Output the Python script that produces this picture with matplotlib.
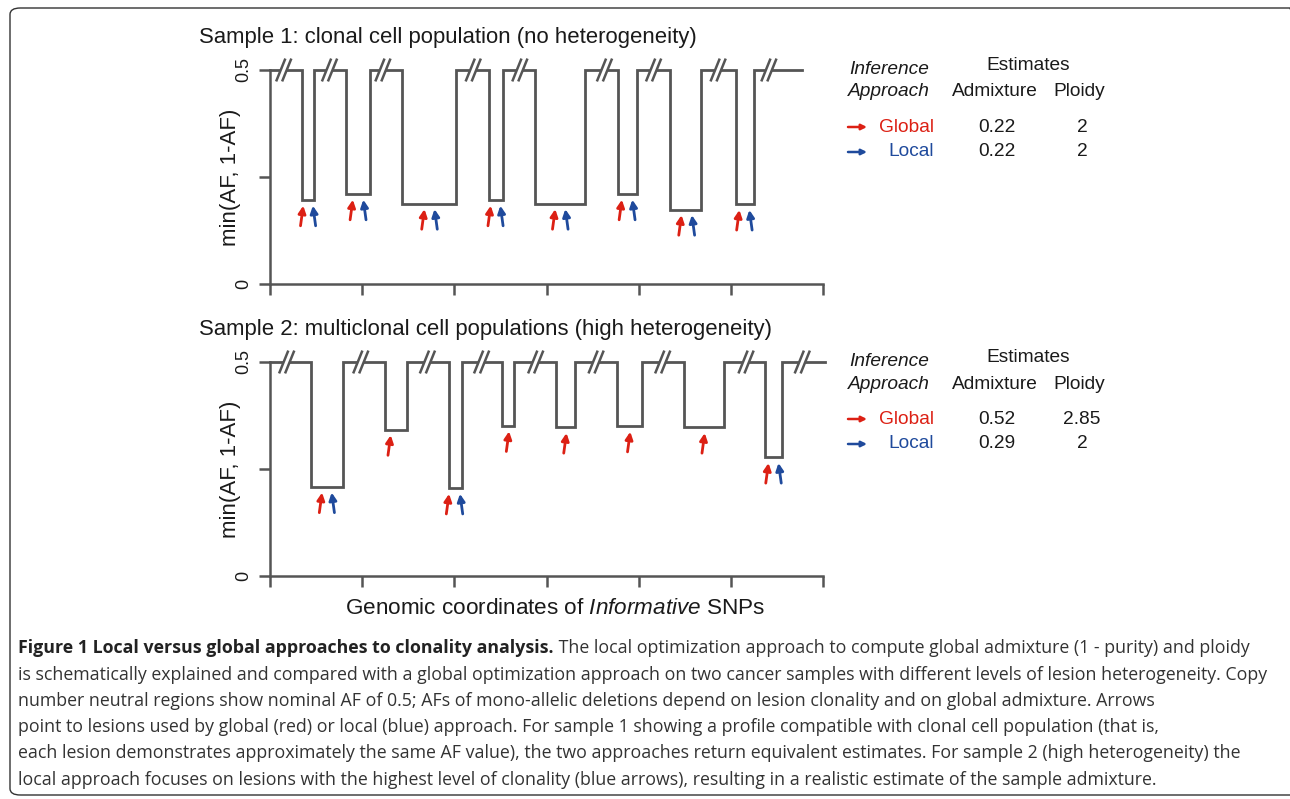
import matplotlib
matplotlib.use("Agg")
import matplotlib.pyplot as plt
from matplotlib.patches import FancyBboxPatch, Polygon
import numpy as np

# ---- data ----
# x in "tick units" (7 ticks at 0..6), y = min(AF, 1-AF)
top_dip_start = [0.352, 0.827, 1.437, 2.377, 2.874, 3.778, 4.338, 5.052]
top_dip_end   = [0.474, 1.085, 2.015, 2.530, 3.416, 3.977, 4.681, 5.246]
top_dip_af    = [0.196, 0.210, 0.188, 0.196, 0.188, 0.210, 0.174, 0.186]
top_end = 5.775
top_breaks = [0.149, 0.646, 1.225, 2.205, 2.711, 3.629, 4.162, 4.862, 5.413]
top_red_x  = [0.361, 0.899, 1.676, 2.395, 3.095, 3.818, 4.465, 5.093]
top_blue_x = [0.465, 1.012, 1.785, 2.499, 3.204, 3.931, 4.577, 5.201]

bot_dip_start = [0.443, 1.243, 1.943, 2.521, 3.100, 3.764, 4.487, 5.368]
bot_dip_end   = [0.791, 1.491, 2.079, 2.648, 3.312, 4.035, 4.925, 5.558]
bot_dip_af    = [0.208, 0.342, 0.205, 0.351, 0.347, 0.350, 0.347, 0.277]
bot_end = 6.02
bot_breaks = [0.181, 0.985, 1.708, 2.296, 2.883, 3.538, 4.261, 5.165, 5.775]
bot_red_x  = [0.565, 1.310, 1.943, 2.594, 3.217, 3.909, 4.717, 5.409]
bot_blue_x = [0.669, None, 2.061, None, None, None, None, 5.517]

titles = ["Sample 1: clonal cell population (no heterogeneity)",
          "Sample 2: multiclonal cell populations (high heterogeneity)"]
admixture = [["0.22", "0.22"], ["0.52", "0.29"]]
ploidy = [["2", "2"], ["2.85", "2"]]

caption_bold = "Figure 1 Local versus global approaches to clonality analysis."
caption_lines = [
    " The local optimization approach to compute global admixture (1 - purity) and ploidy",
    "is schematically explained and compared with a global optimization approach on two cancer samples with different levels of lesion heterogeneity. Copy",
    "number neutral regions show nominal AF of 0.5; AFs of mono-allelic deletions depend on lesion clonality and on global admixture. Arrows",
    "point to lesions used by global (red) or local (blue) approach. For sample 1 showing a profile compatible with clonal cell population (that is,",
    "each lesion demonstrates approximately the same AF value), the two approaches return equivalent estimates. For sample 2 (high heterogeneity) the",
    "local approach focuses on lesions with the highest level of clonality (blue arrows), resulting in a realistic estimate of the sample admixture.",
]

RED = "#dc2014"
BLUE = "#1f4a9c"
GREY = "#555555"
TXT = "#1a1a1a"

plt.rcParams['font.family'] = ['Liberation Sans', 'DejaVu Sans']
plt.rcParams['mathtext.fontset'] = 'custom'
plt.rcParams['mathtext.rm'] = 'Liberation Sans'
plt.rcParams['mathtext.it'] = 'Liberation Sans:italic'

W, H = 1290, 799
fig = plt.figure(figsize=(W / 100, H / 100), dpi=100)


def fx(px):
    return px / W


def fy(py):
    return 1 - py / H


def draw_panel(ax, starts, ends, afs, end, breaks, red_x, blue_x):
    xs, ys = [0], [0.5]
    for s, e, a in zip(starts, ends, afs):
        xs += [s, s, e, e]
        ys += [0.5, a, a, 0.5]
    xs.append(end)
    ys.append(0.5)
    ax.plot(xs, ys, color=GREY, lw=2.0, clip_on=False, solid_joinstyle='miter', zorder=3)

    # axis breaks "//"
    dx, dy, sep = 0.045, 0.024, 0.065
    for b in breaks:
        x1, x2 = b - sep / 2, b + sep / 2
        poly = Polygon([[x1 - dx * 0.5, 0.5 - dy * 0.5], [x2 - dx * 0.5, 0.5 - dy * 0.5],
                        [x2 + dx * 0.5, 0.5 + dy * 0.5], [x1 + dx * 0.5, 0.5 + dy * 0.5]],
                       closed=True, facecolor='white', edgecolor='none', clip_on=False, zorder=4)
        ax.add_patch(poly)
        for xc in (x1, x2):
            ax.plot([xc - dx, xc + dx], [0.5 - dy, 0.5 + dy], color=GREY, lw=1.8,
                    clip_on=False, zorder=5)

    # arrows pointing at the lesions
    for i, a in enumerate(afs):
        head = a - 0.013
        tail = head - 0.047
        ax.annotate('', xy=(red_x[i], head), xytext=(red_x[i] - 0.03, tail),
                    arrowprops=dict(arrowstyle='-|>', color=RED, lw=2.0, mutation_scale=11,
                                    shrinkA=0, shrinkB=0), annotation_clip=False)
        if blue_x[i] is not None:
            ax.annotate('', xy=(blue_x[i], head), xytext=(blue_x[i] + 0.03, tail),
                        arrowprops=dict(arrowstyle='-|>', color=BLUE, lw=2.0, mutation_scale=11,
                                        shrinkA=0, shrinkB=0), annotation_clip=False)

    ax.set_xlim(0, 6)
    ax.set_ylim(0, 0.5)
    ax.set_xticks(np.arange(7))
    ax.set_xticklabels([])
    ax.set_yticks([0, 0.25, 0.5])
    ax.set_yticklabels(['0', '', '0.5'], rotation=90, va='center', fontsize=13, color=TXT)
    for side in ('top', 'right'):
        ax.spines[side].set_visible(False)
    for side in ('left', 'bottom'):
        ax.spines[side].set_color(GREY)
        ax.spines[side].set_linewidth(1.8)
    ax.tick_params(length=8, width=1.8, color=GREY, pad=5)
    ax.patch.set_visible(False)


panel_top = [70, 362]      # pixel y of 0.5 line
panel_bottom = [284, 576]  # pixel y of 0 line
panels = [
    (top_dip_start, top_dip_end, top_dip_af, top_end, top_breaks, top_red_x, top_blue_x),
    (bot_dip_start, bot_dip_end, bot_dip_af, bot_end, bot_breaks, bot_red_x, bot_blue_x),
]

for k in range(2):
    y0, y1 = panel_top[k], panel_bottom[k]
    ax = fig.add_axes([fx(270), fy(y1), fx(823) - fx(270), (y1 - y0) / H])
    draw_panel(ax, *panels[k])

    fig.text(fx(199), fy(y0 - 33), titles[k], fontsize=15.9, color=TXT, va='center', ha='left')
    fig.text(fx(230), fy((y0 + y1) / 2), "min(AF, 1-AF)", rotation=90, fontsize=16,
             color=TXT, va='center', ha='center')

    # estimates table
    off = y0 - 70
    fig.text(fx(889), fy(70 + off), "Inference", style='italic', fontsize=13.8,
             ha='center', va='center', color=TXT)
    fig.text(fx(889), fy(92 + off), "Approach", style='italic', fontsize=13.8,
             ha='center', va='center', color=TXT)
    fig.text(fx(1028), fy(65 + off), "Estimates", fontsize=13.8, ha='center', va='center', color=TXT)
    fig.text(fx(995), fy(92 + off), "Admixture", fontsize=13.8, ha='center', va='center', color=TXT)
    fig.text(fx(1079), fy(92 + off), "Ploidy", fontsize=13.8, ha='center', va='center', color=TXT)
    for j, (lab, col) in enumerate([("Global", RED), ("Local", BLUE)]):
        yy = 127 + 25 * j + off
        fig.text(fx(934), fy(yy), lab, color=col, fontsize=13.8, ha='right', va='center')
        fig.text(fx(997), fy(yy), admixture[k][j], fontsize=13.8, ha='center', va='center', color=TXT)
        fig.text(fx(1082), fy(yy), ploidy[k][j], fontsize=13.8, ha='center', va='center', color=TXT)
        fig.add_artist(matplotlib.patches.FancyArrowPatch(
            (fx(848), fy(yy)), (fx(867), fy(yy)), transform=fig.transFigure,
            arrowstyle='-|>', mutation_scale=8, color=col, lw=1.8, shrinkA=0, shrinkB=0))

fig.text(fx(555), fy(608), r"Genomic coordinates of $\it{Informative}$ SNPs", fontsize=16.2,
         ha='center', va='center', color=TXT)

# caption
cap_y = [648, 675, 701, 727, 753, 780]
cap_font = ['Open Sans', 'DejaVu Sans']
cap_size = 12.8
fig.canvas.draw()
r = fig.canvas.get_renderer()
tb = fig.text(fx(18), fy(cap_y[0]), caption_bold, fontsize=cap_size, fontweight='bold',
              family=cap_font, ha='left', va='center', color='#222222')
bb = tb.get_window_extent(renderer=r)
fig.text(bb.x1 / W, fy(cap_y[0]), caption_lines[0], fontsize=cap_size, family=cap_font,
         ha='left', va='center', color='#333333')
for line, yy in zip(caption_lines[1:], cap_y[1:]):
    fig.text(fx(18), fy(yy), line, fontsize=cap_size, family=cap_font, ha='left', va='center',
             color='#333333')

# rounded frame around the figure
frame = FancyBboxPatch((fx(10), fy(795)), fx(1300) - fx(10), fy(8) - fy(795),
                       boxstyle="round,pad=0,rounding_size=0.008", transform=fig.transFigure,
                       facecolor='none', edgecolor='#333333', lw=1.0, clip_on=False)
fig.add_artist(frame)

fig.savefig("out.png", dpi=100)
